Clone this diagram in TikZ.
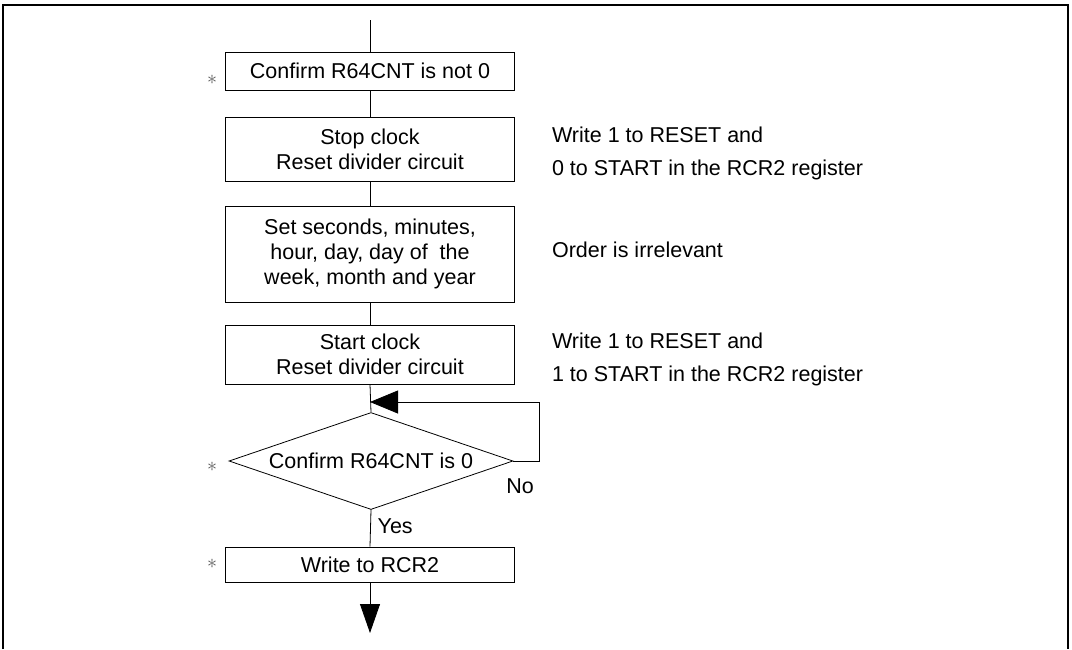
\documentclass[tikz,border=0pt]{standalone}
\usepackage{fontspec}
\setmainfont{Liberation Sans}
\usetikzlibrary{shapes.geometric,arrows.meta}

\tikzset{
  stepbox/.style={draw, minimum width=144.5pt, inner sep=0pt, align=center},
  testbox/.style={draw, diamond, aspect=2.93, minimum width=142pt, minimum height=48.5pt, inner sep=0pt},
  note/.style={anchor=west, align=left, font=\fontsize{10.75}{16.5}\selectfont},
  star/.style={text=black!65, font=\normalsize},
  bigtip/.style={-{Triangle[length=14pt,width=11.5pt]}}
}

\begin{document}
\begin{tikzpicture}[x=0.5pt, y=-0.5pt, every node/.style={font=\fontsize{10.75}{12.5}\selectfont}]
  \useasboundingbox (0,0) rectangle (1072,649);
  % frame, open at the bottom
  \draw[line width=1pt] (3,649) -- (3,5) -- (1068,5) -- (1068,649);

  % flow steps
  \coordinate (entry) at (370,20);
  \node[stepbox, minimum height=19pt] (confirm) at (370,71) {Confirm R64CNT is not 0};
  \node[stepbox, minimum height=32pt] (stop) at (370,149) {Stop clock\\Reset divider circuit};
  \node[stepbox, minimum height=48pt] (set) at (370,254) {Set seconds, minutes,\\hour, day, day of~ the\\week, month and year};
  \node[stepbox, minimum height=29.5pt] (start) at (370,354.5) {Start clock\\Reset divider circuit};
  \node[testbox] (check) at (371,461) {Confirm R64CNT is 0};
  \node[stepbox, minimum height=17.5pt] (write) at (370,564.5) {Write to RCR2};
  \coordinate (exit) at (370,633);

  \draw (entry) -- (confirm.north);
  \draw (confirm) -- (stop);
  \draw (stop) -- (set);
  \draw (set) -- (start);
  \draw (start.south) -- (check.north);
  \draw (check.south) -- node[right, pos=0.45] (yes) {Yes} (write.north);
  \draw[-{Triangle[length=14.5pt,width=10pt]}] (write.south) -- (exit);

  % loop back while not 0
  \coordinate (corner) at (539,402);
  \coordinate (join) at (370,402);
  \draw[bigtip] (check.east) -| (corner) -- (join);
  \node (no) at (520,486) {No};

  % asterisks
  \node[star] (s1) at (212,80) {$\ast$};
  \node[star] (s2) at (212,467) {$\ast$};
  \node[star] (s3) at (212,564) {$\ast$};

  % notes
  \node[note] (n1) at (545,153.5) {Write 1 to RESET and\\0 to START in the RCR2 register};
  \node[note] (n2) at (545,250) {Order is irrelevant};
  \node[note] (n3) at (545,359) {Write 1 to RESET and\\1 to START in the RCR2 register};
\end{tikzpicture}
\end{document}
